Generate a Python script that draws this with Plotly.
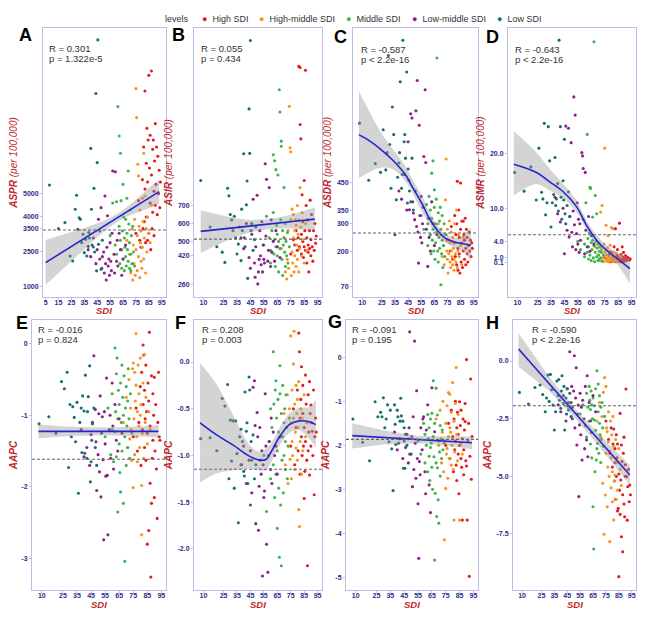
import plotly.graph_objects as go

# ---------------- data ----------------
LEVELS = ["High SDI", "High-middle SDI", "Middle SDI", "Low-middle SDI", "Low SDI"]
LEVEL_COLORS = ["#E41A1C", "#F7941D", "#3DB54A", "#8E1E8E", "#16706F"]

sdi_low = [8, 15, 20, 24, 26, 28, 29, 30, 31, 32, 33, 34, 35, 36, 37, 38, 38.5, 39, 40, 40.5,
           41, 42, 42.5, 43, 44, 44.5, 45, 45.5, 46, 47, 48, 49]
sdi_lowmid = [38, 40, 42, 44, 45, 46, 47, 48, 48.5, 49, 50, 50.5, 51, 51.5, 52, 52.5, 53, 53.5,
              54, 54.5, 55, 55.5, 56, 56.5, 57, 58, 58.5, 59, 60, 60.5, 61, 62, 63, 64, 65, 67]
sdi_mid = [55, 57, 59, 60, 60, 61, 62, 62, 62.5, 63, 63, 63.5, 64, 64, 64.5, 65, 65, 65.5, 66, 66,
           66.5, 67, 67, 67.5, 68, 68, 68.5, 69, 69, 69.5, 70, 70, 70.5, 71, 71, 71.5, 72, 72.5, 73, 74]
sdi_highmid = [68, 70, 71, 72, 72.5, 73, 73.5, 74, 74.5, 75, 75, 75.5, 76, 76, 76.5, 77, 77, 77.5,
               78, 78, 78.5, 79, 79, 79.5, 80, 80, 80.5, 81, 81, 81.5, 82, 82.5, 83, 83.5, 84, 85, 86, 87]
sdi_high = [75, 77, 78, 79, 80, 80.5, 81, 81.5, 82, 82, 82.5, 83, 83, 83.5, 84, 84, 84.5, 85, 85, 85.5,
            86, 86, 86.5, 87, 87, 87.5, 88, 88, 88.5, 89, 89, 89.5, 90, 90, 90.5, 91, 91.5, 92, 92.5, 93, 93.5, 94]

# A: ASPR
aspr_low = [5370, 3500, 3760, 2330, 2110, 4330, 4930, 3470, 3970, 3900, 2900, 3260, 2470, 3040, 2330,
            2740, 3330, 3100, 6940, 4330, 2800, 2710, 5230, 2500, 9290, 1690, 6330, 11590, 2830, 3400, 1760, 3000]
aspr_lowmid = [2600, 2300, 3100, 2000, 2600, 3900, 2200, 4400, 1800, 2300, 2500, 1600, 4900, 2000, 1300,
               2700, 4050, 1900, 2200, 1500, 2900, 2100, 1700, 3300, 5970, 2400, 1600, 5940, 2100, 3000,
               1900, 3300, 2600, 1500, 2200, 2800]
aspr_mid = [3200, 4600, 2800, 4650, 2400, 8730, 7470, 3600, 2000, 6730, 3000, 4700, 2600, 1800, 3400,
            5400, 2200, 4000, 3100, 1700, 2700, 3900, 2300, 1900, 4800, 3300, 2600, 5970, 2100, 3700,
            1800, 2900, 4300, 2400, 1700, 3200, 2000, 3600, 2500, 1900]
aspr_highmid = [3000, 2400, 1600, 3500, 1300, 2800, 2000, 3900, 1500, 9500, 2600, 8260, 3200, 1700, 6260,
                5760, 2300, 3600, 1400, 4300, 2900, 2100, 3400, 1800, 4800, 2700, 3800, 6730, 2200, 3100,
                4900, 1600, 3500, 2500, 4000, 3300, 2900, 4500]
aspr_high = [3300, 4700, 3000, 2700, 5600, 3500, 7000, 3800, 9400, 5200, 2900, 6300, 4000, 7800, 3000,
             5500, 7300, 10070, 3300, 6100, 4600, 7500, 2600, 10260, 5800, 3500, 6900, 4200, 7300, 5100,
             3200, 6400, 4500, 8000, 5400, 7000, 4100, 6600, 5000, 6000, 4400, 5500]

# B: ASIR
asir_low = [840, 580, 470, 440, 383, 796, 754, 650, 620, 560, 640, 520, 430, 485, 580, 393, 680, 560, 989,
            520, 470, 704, 837, 294, 1239, 991, 1620, 560, 600, 450, 510, 580]
asir_lowmid = [520, 460, 600, 410, 350, 540, 735, 380, 300, 470, 757, 263, 330, 400, 560, 420, 370, 610,
               330, 480, 400, 380, 933, 530, 846, 390, 450, 800, 360, 620, 440, 500, 390, 560, 470, 410]
asir_mid = [480, 640, 520, 450, 380, 560, 661, 983, 430, 950, 510, 360, 900, 470, 590, 420, 540, 870, 330,
            500, 1346, 1222, 460, 620, 1059, 1031, 400, 560, 310, 480, 800, 520, 440, 360, 600, 500, 420,
            550, 380, 470]
asir_highmid = [460, 520, 330, 290, 400, 560, 350, 1253, 1022, 1000, 620, 310, 440, 680, 380, 520, 650,
                330, 560, 420, 620, 360, 590, 480, 700, 400, 540, 620, 330, 460, 800, 580, 420, 660, 510,
                380, 600, 450]
asir_high = [430, 510, 480, 560, 450, 520, 1476, 470, 1470, 1152, 1072, 540, 430, 760, 500, 610, 410, 470,
             840, 560, 1454, 450, 700, 380, 520, 620, 440, 480, 330, 560, 460, 730, 420, 510, 650, 470,
             390, 560, 450, 600, 490, 530]

# C: ASDR
asdr_low = [668, 459, 520, 488, 644, 497, 560, 915, 590, 430, 727, 626, 260, 388, 470, 522, 560, 819, 430,
            480, 971, 600, 626, 540, 855, 376, 500, 460, 420, 380, 540, 350]
asdr_lowmid = [420, 390, 480, 350, 600, 351, 702, 687, 380, 339, 315, 420, 713, 290, 824, 270, 156, 660,
               330, 250, 400, 230, 300, 360, 546, 790, 524, 280, 144, 320, 250, 200, 380, 300, 220, 260]
asdr_mid = [330, 280, 370, 300, 220, 400, 260, 350, 190, 485, 320, 240, 530, 280, 200, 424, 360, 170, 300,
            230, 390, 906, 270, 200, 340, 160, 250, 310, 210, 360, 77, 280, 190, 240, 330, 140, 220, 300,
            180, 260]
asdr_highmid = [300, 260, 180, 220, 150, 260, 388, 537, 200, 170, 280, 120, 240, 190, 310, 160, 230, 140,
                200, 270, 180, 150, 250, 210, 170, 130, 300, 190, 230, 160, 350, 140, 200, 260, 180, 220,
                150, 250]
asdr_high = [240, 200, 290, 170, 230, 330, 180, 260, 150, 300, 455, 210, 130, 350, 250, 190, 120, 449, 280,
             160, 230, 310, 140, 309, 200, 260, 170, 240, 320, 150, 210, 280, 190, 250, 160, 220, 270, 200,
             240, 180, 230, 210]

# D: ASMR
asmr_low = [16.5, 13.1, 17.5, 11.5, 20.9, 12.9, 11.7, 25.4, 8.8, 11.0, 24.8, 18.6, 6.6, 11.0, 12.5, 19.2,
            10.5, 11.7, 14.5, 9.5, 40.5, 24.8, 12.0, 8.0, 15.0, 11.5, 22.5, 9.0, 7.2, 10.5, 13.0, 8.5]
asmr_lowmid = [12.0, 9.0, 7.5, 10.0, 1.75, 24.9, 6.0, 24.5, 4.8, 8.5, 21.9, 5.66, 3.0, 9.5, 30.2, 7.0,
               26.9, 2.5, 5.4, 11.0, 3.5, 8.0, 2.0, 7.2, 4.2, 20.1, 19.5, 17.2, 1.75, 16.5, 6.0, 3.0, 8.5,
               2.2, 5.0, 3.5]
asmr_mid = [4.0, 2.5, 8.0, 1.2, 3.5, 11.0, 23.4, 2.0, 4.5, 0.8, 3.0, 5.5, 13.8, 1.5, 13.6, 3.8, 0.5, 2.5,
            8.4, 4.2, 1.0, 40.2, 3.2, 0.3, 12.3, 2.0, 4.0, 1.2, 9.0, 2.8, 0.5, 3.5, 1.5, 2.2, 0.8, 3.0,
            1.0, 2.0, 0.4, 1.5]
asmr_highmid = [3.0, 1.5, 0.5, 9.3, 2.5, 10.5, 1.0, 0.3, 3.5, 20.9, 2.0, 0.8, 6.9, 1.5, 0.4, 2.8, 0.9, 5.0,
                1.2, 0.3, 2.2, 0.6, 3.3, 1.0, 0.5, 6.5, 1.5, 6.3, 0.7, 2.0, 0.4, 1.0, 0.6, 1.8, 0.3, 0.8,
                0.5, 1.2]
asmr_high = [1.0, 0.5, 1.5, 0.3, 2.0, 0.8, 0.4, 1.2, 3.0, 0.6, 1.0, 0.3, 6.3, 0.9, 1.5, 0.5, 2.5, 0.7, 1.2,
             0.4, 7.3, 1.0, 0.6, 1.6, 0.3, 0.9, 3.0, 0.5, 1.2, 0.7, 2.0, 0.4, 1.0, 0.6, 1.4, 0.8, 0.5, 1.1,
             0.7, 0.9, 0.6, 0.8]

# E: AAPC (ASPR)
aapc_e_low = [-1.12, -1.02, -1.25, -0.53, -0.63, -0.40, -1.73, -0.85, -1.30, -0.88, -1.03, -1.37, -0.82,
              -2.09, -1.10, -0.90, -1.52, -0.73, -0.94, -1.53, -0.44, -1.60, -0.95, -0.74, -0.31, -1.93,
              -1.65, -1.35, -1.12, -0.90, -1.45, -1.70]
aapc_e_lowmid = [-1.20, -1.58, -1.45, -1.70, -1.27, -1.10, -0.17, -0.92, -1.37, -2.05, -1.55, -0.98, -1.79,
                 -0.73, -2.14, -1.25, -1.02, -1.62, -2.74, -0.95, -1.40, -1.85, -0.48, -1.84, -2.67, -1.20,
                 -1.00, -1.60, -0.55, -1.15, -1.75, -0.85, -1.35, -1.50, -1.05, -1.25]
aapc_e_mid = [-1.30, -0.90, -1.55, -0.70, -1.20, -1.65, -0.06, -1.23, -0.95, -1.58, -0.42, -0.20, -1.05,
              -2.35, -0.65, -1.40, -0.85, -1.80, -2.07, -0.55, -1.10, -0.30, -1.50, -0.75, -2.23, -1.00,
              -0.45, -3.04, -1.30, -0.90, -1.70, -0.60, -1.15, -0.80, -1.45, -0.35, -1.05, -1.60, -0.70, -1.25]
aapc_e_highmid = [-1.10, -0.75, -1.45, -0.50, -1.33, -0.90, -1.20, -1.63, -0.35, -2.01, -0.27, -1.05, -0.40,
                  -1.55, -0.80, 0.14, -0.58, -1.30, -0.95, -1.65, -0.30, -1.15, -0.70, -1.45, -0.20, -1.00,
                  -0.85, -1.98, -2.67, -1.25, -0.55, -1.60, -0.15, -1.10, -0.75, -1.40, -0.95, -1.20]
aapc_e_high = [-1.30, -0.90, -1.50, -1.10, -0.60, -1.70, -0.40, -1.20, -0.02, -0.85, -0.16, -1.45, -0.65,
               -1.05, -0.30, -1.63, -0.95, -2.80, -1.25, -0.55, -2.61, -0.80, 0.16, -1.95, -1.15, -3.26,
               -0.45, -2.23, -1.60, -0.70, -1.35, -1.00, -0.47, -2.15, -1.50, -0.85, -1.75, -2.44, -1.10,
               -0.40, -1.30, -1.35]

# F: AAPC (ASIR)
aapc_f_low = [-0.82, -0.81, -0.95, -0.39, -0.47, -0.24, -1.25, -0.62, -1.06, -0.63, -1.35, -0.63, -0.98,
              -1.72, -0.80, -0.72, -1.10, -0.85, -1.17, -1.22, -0.32, -0.74, -0.65, -1.30, -0.16, -0.30,
              -1.53, -0.85, -1.05, -0.78, -1.25, -1.10]
aapc_f_lowmid = [-1.10, -0.90, -1.30, -1.05, -0.95, -1.40, -0.27, -0.20, -0.68, -1.73, -0.54, -0.80, -1.80,
                 -1.33, -0.70, -1.05, -1.20, -0.95, -2.29, -1.10, -1.45, -1.38, -0.34, -0.90, -1.95, -2.25,
                 -1.00, -0.85, -1.15, -0.60, -1.30, -0.75, -1.00, -0.90, -1.20, -0.80]
aapc_f_mid = [-1.00, -1.60, -0.85, -0.50, -1.25, -0.70, 0.11, -1.10, -0.45, -0.90, -1.45, -0.30, -0.20,
              -1.20, -0.60, -1.78, -0.95, -0.40, -1.35, -0.75, -2.09, -0.04, -0.34, -1.53, -0.55, -2.18,
              -1.05, -0.80, -0.25, -1.40, -0.65, -1.00, -0.50, -1.15, -0.85, -0.35, -0.70, -1.25, -0.90, -0.60]
aapc_f_highmid = [-0.80, -0.55, -1.10, -0.70, -0.35, -1.30, -0.90, -0.50, -1.04, 0.28, -0.65, -1.25, -0.85,
                  -0.30, -1.00, -0.02, -0.60, 0.33, -0.45, -1.15, -0.75, -0.92, -0.25, -0.55, -1.05, -0.40,
                  -0.70, -1.58, -0.21, -1.76, -0.85, -0.50, -1.20, -0.60, -0.95, -0.35, -0.80, -0.65]
aapc_f_high = [-0.90, -0.50, -1.10, -0.70, -0.30, -0.95, 0.31, 0.11, -0.60, -1.20, -0.40, -0.80, -0.05,
               -1.00, -0.55, -0.25, -0.90, -1.46, -0.70, -1.17, -0.14, -0.85, -0.45, -1.05, -0.65, -2.18,
               -0.35, -0.95, -0.75, -0.21, -1.21, -0.55, -0.46, -0.90, -0.65, -0.74, -1.00, -0.30, -1.42,
               -0.80, -0.60, -0.75]

# G: AAPC (ASDR)
aapc_g_low = [-1.40, -1.93, -2.35, -1.01, -1.35, -1.25, -1.35, -0.92, -1.60, -1.40, -1.08, -1.92, -1.20,
              -2.08, -3.03, -1.08, -1.52, -1.98, -1.20, -1.35, -1.95, -1.45, -0.93, -1.33, -1.45, -2.52,
              -1.60, -2.52, -1.75, -2.00, -1.85, -2.20]
aapc_g_lowmid = [-1.70, -2.10, -1.85, -2.30, -1.90, -2.05, -1.75, -2.40, -1.60, 0.58, -2.20, -1.80, -2.94,
                 -1.35, -2.55, 0.37, -1.95, -2.75, -0.76, -2.30, -3.33, -4.57, -2.37, -2.67, -1.60, -2.10,
                 -1.40, -1.35, -2.60, -3.10, -1.65, -1.08, -2.90, -3.53, -0.69, -1.69]
aapc_g_mid = [-1.90, -2.20, -1.50, -2.40, -1.75, -2.00, -1.30, -2.60, -1.85, -2.25, -1.60, -2.80, -1.40,
              -2.05, -1.95, -1.27, -2.50, -3.00, -0.53, -1.80, -2.26, -4.61, -1.50, -3.09, -0.70, -2.40,
              -3.62, -1.31, -2.51, -3.24, -3.77, -1.90, -2.15, -1.55, -2.70, -1.85, -2.30, -1.65, -2.10, -1.95]
aapc_g_highmid = [-1.40, -2.00, -1.20, -2.40, -1.70, -1.00, -2.60, -4.15, -1.90, -2.98, -1.50, -2.20, -2.07,
                  -1.10, -2.75, -1.80, -0.80, -2.30, -0.84, -1.60, -1.70, -2.45, -1.25, -2.00, -0.57, -1.85,
                  -2.55, -1.45, -3.70, -2.15, -1.05, -0.23, -1.75, -2.35, -1.30, -3.70, -1.95, -2.20]
aapc_g_high = [-2.00, -1.50, -2.30, -1.20, -1.80, -2.60, -1.40, -2.10, -1.00, -1.90, -2.45, -1.60, -2.80,
               -1.25, -2.20, -1.75, -3.10, -1.01, -2.00, -1.55, -2.30, -1.20, -2.50, -1.85, -3.70, -1.40,
               -2.67, -2.10, -1.65, -1.05, -1.46, -2.35, -0.05, -2.47, -3.70, -1.90, -1.50, -4.98, -2.25,
               -0.49, -2.77, -1.80]

# H: AAPC (ASMR)
aapc_h_low = [-1.36, -1.86, -1.15, -1.04, -1.45, -2.20, -1.60, -0.61, -1.75, -0.58, -1.25, -1.91, -2.99,
              -2.20, -0.87, -1.50, -0.80, -1.70, -2.05, -1.30, -0.64, -1.84, -1.10, -2.99, -1.60, -2.30,
              -1.20, -1.95, -2.12, -1.40, -1.80, -2.50]
aapc_h_lowmid = [-1.90, -2.20, -1.50, -2.60, -1.20, -1.80, 0.40, -2.41, -1.10, -2.00, -1.30, 0.23, -2.90,
                 -1.60, -0.29, -3.64, -2.30, -1.91, -5.88, -2.77, -1.40, -3.20, -2.00, -4.29, -1.70, -2.50,
                 -3.80, -1.10, -3.42, -0.64, -4.15, -1.80, -2.60, -3.10, -1.50, -2.20]
aapc_h_mid = [-2.30, -1.90, -2.80, -1.40, -3.30, -2.00, -1.10, -2.60, -1.70, -3.60, -2.10, -1.30, -4.20,
              -1.90, -2.50, -6.32, -1.60, -8.15, -1.94, -2.56, -4.80, -3.00, -1.20, -4.29, -0.42, -3.80,
              -3.57, -2.20, -1.00, -4.00, -2.70, -1.50, -3.20, -4.40, -2.00, -3.40, -1.80, -2.90, -3.70, -2.40]
aapc_h_highmid = [-2.60, -1.80, -3.30, -2.41, -5.30, -1.36, -7.51, -0.72, -5.81, -1.10, -4.00, -2.90, -3.06,
                  -6.32, -4.60, -2.20, -3.50, -5.00, -7.83, -3.90, -2.60, -5.50, -4.20, -3.20, -6.10, -4.80,
                  -2.40, -6.89, -3.70, -5.20, -4.94, -3.40, -6.00, -4.40, -5.60, -3.80, -4.70, -5.40]
aapc_h_high = [-2.60, -3.40, -4.00, -2.90, -4.60, -3.60, -2.95, -5.20, -3.80, -4.40, -6.00, -3.20, -5.00,
               -4.20, -6.50, -3.60, -6.39, -4.90, -9.35, -5.60, -2.27, -6.65, -5.16, -3.64, -7.62, -4.36,
               -8.27, -5.80, -4.00, -6.20, -3.30, -6.75, -5.00, -4.50, -1.21, -5.01, -6.90, -5.45, -4.70,
               -6.10, -5.38, -5.80]

# fitted curves: x grid, fit, lower, upper
fit_A_x = [5, 15, 25, 35, 45, 55, 65, 75, 85, 93]
fit_A_y = [2043, 2389, 2735, 3080, 3426, 3772, 4118, 4464, 4810, 5086]
fit_A_lo = [1080, 1600, 2110, 2630, 3130, 3580, 3940, 4170, 4370, 4570]
fit_A_hi = [3010, 3180, 3355, 3530, 3730, 3960, 4300, 4750, 5250, 5600]

fit_B_x = [8, 15, 25, 35, 45, 55, 65, 75, 85, 93]
fit_B_y = [556, 562, 570, 578, 586, 594, 602, 610, 618, 624]
fit_B_lo = [435, 462, 497, 527, 551, 565, 572, 572, 565, 559]
fit_B_hi = [674, 660, 643, 628, 620, 622, 632, 648, 671, 689]

fit_C_x = [7.5, 15, 23, 33, 43, 48, 56, 61, 68, 73, 81, 88, 93]
fit_C_y = [626, 605, 577, 534, 479, 437, 370, 321, 272, 248, 232, 226, 221]
fit_C_lo = [467, 487, 504, 500, 455, 415, 339, 300, 254, 232, 211, 195, 162]
fit_C_hi = [784, 715, 644, 575, 510, 465, 400, 345, 290, 265, 248, 262, 287]

fit_D_x = [7.3, 24.2, 34.1, 44.1, 54, 61.5, 69, 76.4, 83.9, 93.8]
fit_D_y = [18.0, 16.5, 14.8, 13.0, 10.3, 6.9, 4.2, 2.35, 0.96, -0.96]
fit_D_lo = [12.3, 14.4, 13.2, 11.8, 9.3, 6.0, 3.3, 1.45, -0.06, -3.7]
fit_D_hi = [24.0, 20.1, 17.1, 14.4, 11.4, 7.8, 5.1, 3.3, 2.05, 0.84]

fit_E_x = [7.6, 30, 55, 75, 93]
fit_E_y = [-1.225, -1.225, -1.225, -1.225, -1.225]
fit_E_lo = [-1.32, -1.29, -1.28, -1.29, -1.31]
fit_E_hi = [-1.13, -1.16, -1.17, -1.16, -1.14]

fit_F_x = [7.5, 19.9, 32.2, 44.5, 51.9, 56.8, 60.5, 66.7, 74, 81.4, 88.8, 93.7]
fit_F_y = [-0.65, -0.78, -0.89, -1.01, -1.05, -1.04, -0.96, -0.80, -0.67, -0.63, -0.64, -0.67]
fit_F_lo = [-1.29, -1.19, -1.16, -1.14, -1.16, -1.16, -1.07, -0.89, -0.76, -0.73, -0.82, -0.91]
fit_F_hi = [-0.01, -0.24, -0.57, -0.89, -0.96, -0.92, -0.87, -0.71, -0.55, -0.49, -0.48, -0.40]

fit_G_x = [7.5, 30, 55, 75, 94]
fit_G_y = [-1.78, -1.82, -1.87, -1.90, -1.94]
fit_G_lo = [-2.07, -1.98, -1.95, -2.00, -2.09]
fit_G_hi = [-1.50, -1.66, -1.79, -1.80, -1.80]

fit_H_x = [7.3, 30, 50, 70, 93.5]
fit_H_y = [0.52, -0.92, -2.19, -3.45, -4.94]
fit_H_lo = [-0.25, -1.25, -2.40, -3.72, -5.38]
fit_H_hi = [1.20, -0.60, -2.00, -3.20, -4.51]

# dashed reference lines
ref_values = {"A": 3443, "B": 513, "C": 266, "D": 5.2, "E": -1.614, "F": -1.147, "G": -1.864, "H": -1.936}

stats_R = {"A": "R = 0.301", "B": "R = 0.055", "C": "R = -0.587", "D": "R = -0.643",
           "E": "R = -0.016", "F": "R = 0.208", "G": "R = -0.091", "H": "R = -0.590"}
stats_p = {"A": "p = 1.322e-5", "B": "p = 0.434", "C": "p < 2.2e-16", "D": "p < 2.2e-16",
           "E": "p = 0.824", "F": "p = 0.003", "G": "p = 0.195", "H": "p < 2.2e-16"}

y_titles = {"A": "ASPR", "B": "ASIR", "C": "ASDR", "D": "ASMR"}

y_ticks = {
    "A": ([1000, 2500, 3500, 4000, 5000], ["1000", "2500", "3500", "4000", "5000"]),
    "B": ([260, 420, 500, 600, 700], ["260", "420", "500", "600", "700"]),
    "C": ([70, 200, 300, 350, 450], ["70", "200", "300", "350", "450"]),
    "D": ([0.1, 1.0, 4.0, 10.0, 20.0], ["0.1", "1.0", "4.0", "10.0", "20.0"]),
    "E": ([-3, -2, -1, 0], ["-3", "-2", "-1", "0"]),
    "F": ([-2.0, -1.5, -1.0, -0.5, 0.0], ["-2.0", "-1.5", "-1.0", "-0.5", "0.0"]),
    "G": ([-5, -4, -3, -2, -1, 0], ["-5", "-4", "-3", "-2", "-1", "0"]),
    "H": ([-7.5, -5.0, -2.5, 0.0], ["-7.5", "-5.0", "-2.5", "0.0"]),
}
x_ticks_A = [5, 15, 25, 35, 45, 55, 65, 75, 85, 95]
x_ticks_other = [10, 25, 35, 45, 55, 65, 75, 85, 95]

series = {
    "A": [aspr_high, aspr_highmid, aspr_mid, aspr_lowmid, aspr_low],
    "B": [asir_high, asir_highmid, asir_mid, asir_lowmid, asir_low],
    "C": [asdr_high, asdr_highmid, asdr_mid, asdr_lowmid, asdr_low],
    "D": [asmr_high, asmr_highmid, asmr_mid, asmr_lowmid, asmr_low],
    "E": [aapc_e_high, aapc_e_highmid, aapc_e_mid, aapc_e_lowmid, aapc_e_low],
    "F": [aapc_f_high, aapc_f_highmid, aapc_f_mid, aapc_f_lowmid, aapc_f_low],
    "G": [aapc_g_high, aapc_g_highmid, aapc_g_mid, aapc_g_lowmid, aapc_g_low],
    "H": [aapc_h_high, aapc_h_highmid, aapc_h_mid, aapc_h_lowmid, aapc_h_low],
}
sdi_by_level = [sdi_high, sdi_highmid, sdi_mid, sdi_lowmid, sdi_low]
fits = {
    "A": (fit_A_x, fit_A_y, fit_A_lo, fit_A_hi, "linear"),
    "B": (fit_B_x, fit_B_y, fit_B_lo, fit_B_hi, "linear"),
    "C": (fit_C_x, fit_C_y, fit_C_lo, fit_C_hi, "spline"),
    "D": (fit_D_x, fit_D_y, fit_D_lo, fit_D_hi, "spline"),
    "E": (fit_E_x, fit_E_y, fit_E_lo, fit_E_hi, "linear"),
    "F": (fit_F_x, fit_F_y, fit_F_lo, fit_F_hi, "spline"),
    "G": (fit_G_x, fit_G_y, fit_G_lo, fit_G_hi, "linear"),
    "H": (fit_H_x, fit_H_y, fit_H_lo, fit_H_hi, "linear"),
}

# ---------------- layout geometry (window pixels) ----------------
PAGE_OFFSET = 8            # default body margin of the page
W, H = 659 - PAGE_OFFSET, 617 - PAGE_OFFSET


def px_x(x):
    return (x - PAGE_OFFSET) / W


def px_y(y):
    return 1 - (y - PAGE_OFFSET) / H


panels = {
    "A": dict(px=(43, 166), py=(28, 297), yr=(570, 12100), letter=(25, 35), st=(47, 48)),
    "B": dict(px=(194, 322), py=(28, 297), yr=(190, 1690), letter=(178, 35), st=(199, 48)),
    "C": dict(px=(353, 478), py=(28, 297), yr=(32, 1016), letter=(340, 37), st=(359, 49)),
    "D": dict(px=(508, 636), py=(28, 297), yr=(-6.1, 42.7), letter=(492, 37), st=(513, 49)),
    "E": dict(px=(32, 166), py=(320, 590), yr=(-3.44, 0.33), letter=(22, 323), st=(36, 329)),
    "F": dict(px=(194, 322), py=(320, 590), yr=(-2.44, 0.45), letter=(180, 323), st=(200, 329)),
    "G": dict(px=(346, 478), py=(320, 590), yr=(-5.29, 0.85), letter=(335, 322), st=(350, 329)),
    "H": dict(px=(513, 636), py=(320, 590), yr=(-9.93, 1.78), letter=(492, 323), st=(530, 329)),
}

AXIS_LINE = "#BDBDE6"
TICK_COLOR = "#2C2C8C"
TITLE_RED = "#C1272D"
FONT = "Arial, Liberation Sans, sans-serif"

fig = go.Figure()
annotations = []
shapes = []
layout_axes = {}

for i, key in enumerate(["A", "B", "C", "D", "E", "F", "G", "H"]):
    n = i + 1
    xa = "x" if n == 1 else f"x{n}"
    ya = "y" if n == 1 else f"y{n}"
    p = panels[key]
    for lvl, col, xs, ys in zip(LEVELS, LEVEL_COLORS, sdi_by_level, series[key]):
        fig.add_trace(go.Scatter(x=xs, y=ys, mode="markers", xaxis=xa, yaxis=ya,
                                 marker=dict(size=3.1, color=col), name=lvl, showlegend=False,
                                 hoverinfo="skip"))
    fx, fy, flo, fhi, shp = fits[key]
    fig.add_trace(go.Scatter(x=fx, y=fhi, mode="lines", xaxis=xa, yaxis=ya,
                             line=dict(width=0, shape=shp, color="rgba(0,0,0,0)"),
                             showlegend=False, hoverinfo="skip"))
    fig.add_trace(go.Scatter(x=fx, y=flo, mode="lines", xaxis=xa, yaxis=ya, fill="tonexty",
                             fillcolor="rgba(153,153,153,0.42)",
                             line=dict(width=0, shape=shp, color="rgba(0,0,0,0)"),
                             showlegend=False, hoverinfo="skip"))
    fig.add_trace(go.Scatter(x=fx, y=fy, mode="lines", xaxis=xa, yaxis=ya,
                             line=dict(width=1.6, shape=shp, color="#2424D0"),
                             showlegend=False, hoverinfo="skip"))
    shapes.append(dict(type="line", xref=f"{xa} domain", yref=ya, x0=0, x1=1,
                       y0=ref_values[key], y1=ref_values[key],
                       line=dict(color="#666666", width=1.1, dash="3px,2px")))

    xdom = [px_x(p["px"][0]), px_x(p["px"][1])]
    ydom = [px_y(p["py"][1]), px_y(p["py"][0])]
    xt = x_ticks_A if key == "A" else x_ticks_other
    ytv, ytt = y_ticks[key]
    if key in y_titles:
        ytitle = f"<b><i>{y_titles[key]}</i></b><i> (per 100,000)</i>"
    else:
        ytitle = "<b><i>AAPC</i></b>"
    layout_axes[("xaxis" if n == 1 else f"xaxis{n}")] = dict(
        domain=xdom, anchor=ya, range=[3.0, 98.3], tickvals=xt, ticktext=[str(v) for v in xt],
        showgrid=False, zeroline=False, showline=True, mirror=True, linecolor=AXIS_LINE, linewidth=1,
        ticks="outside", ticklen=2, tickcolor=AXIS_LINE, ticklabelstandoff=-3,
        tickfont=dict(size=7, color=TICK_COLOR, family=FONT, weight="bold"),
    )
    layout_axes[("yaxis" if n == 1 else f"yaxis{n}")] = dict(
        domain=ydom, anchor=xa, range=list(p["yr"]), tickvals=ytv, ticktext=ytt,
        showgrid=False, zeroline=False, showline=True, mirror=True, linecolor=AXIS_LINE, linewidth=1,
        ticks="outside", ticklen=2, tickcolor=AXIS_LINE,
        tickfont=dict(size=7, color=TICK_COLOR, family=FONT, weight="bold"),
        title=dict(text=ytitle, font=dict(size=10, color=TITLE_RED, family=FONT), standoff=3),
    )
    xc = (p["px"][0] + p["px"][1]) / 2
    annotations.append(dict(text="<b><i>SDI</i></b>", x=px_x(xc), y=px_y(p["py"][1] + 14),
                            xref="paper", yref="paper", showarrow=False, xanchor="center",
                            yanchor="middle", font=dict(size=9.5, color=TITLE_RED, family=FONT)))
    lx, ly = p["letter"]
    annotations.append(dict(text=f"<b>{key}</b>", x=px_x(lx), y=px_y(ly), xref="paper", yref="paper",
                            showarrow=False, xanchor="center", yanchor="middle",
                            font=dict(size=18, color="black", family=FONT)))
    sx, sy = p["st"]
    annotations.append(dict(text=stats_R[key], x=px_x(sx), y=px_y(sy), xref="paper", yref="paper",
                            showarrow=False, xanchor="left", yanchor="middle",
                            font=dict(size=9.5, color="#333333", family=FONT)))
    annotations.append(dict(text=stats_p[key], x=px_x(sx), y=px_y(sy + 10.5), xref="paper", yref="paper",
                            showarrow=False, xanchor="left", yanchor="middle",
                            font=dict(size=9.5, color="#333333", family=FONT)))

annotations.append(dict(text="levels", x=px_x(163), y=px_y(19), xref="paper", yref="paper",
                        showarrow=False, xanchor="left", yanchor="middle",
                        font=dict(size=9, color="#333333", family=FONT)))
legend_left = [200, 257, 344, 410, 495]
for lvl, col, lx in zip(LEVELS, LEVEL_COLORS, legend_left):
    annotations.append(dict(text=f"<span style='color:{col}'>●</span>  {lvl}", x=px_x(lx), y=px_y(19),
                            xref="paper", yref="paper", showarrow=False, xanchor="left", yanchor="middle",
                            font=dict(size=9, color="#333333", family=FONT)))

fig.update_layout(
    width=W, height=H, margin=dict(l=0, r=0, t=0, b=0),
    paper_bgcolor="white", plot_bgcolor="white", showlegend=False,
    annotations=annotations, shapes=shapes, **layout_axes,
)
fig.write_html("out.html")
